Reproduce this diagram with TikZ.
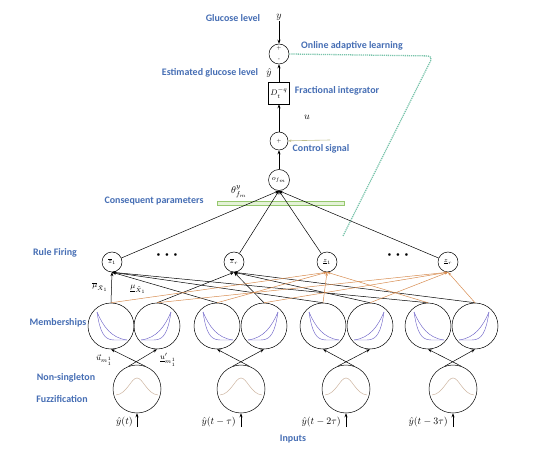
\documentclass[tikz,border=0pt]{standalone}
\usepackage{fontspec}
\newfontfamily\lab{Carlito}
\usetikzlibrary{arrows.meta}
\definecolor{labblue}{RGB}{70,110,180}
\definecolor{mfblue}{RGB}{110,100,200}
\definecolor{gauss}{RGB}{205,180,160}
\definecolor{orangeline}{RGB}{215,140,80}
\definecolor{learngreen}{RGB}{120,195,170}
\definecolor{cpgreen}{RGB}{150,200,110}
\definecolor{cpfill}{RGB}{228,242,215}
\definecolor{csline}{RGB}{190,190,140}
\begin{document}
\begin{tikzpicture}[x=1bp,y=-1bp,
  lbl/.style={font=\lab\bfseries\fontsize{10}{12}\selectfont, text=labblue},
  mathlbl/.style={font=\fontsize{10}{11}\selectfont, inner sep=1pt},
  inlbl/.style={font=\fontsize{10}{11}\selectfont, inner sep=0pt},
  smlbl/.style={font=\fontsize{8}{9}\selectfont, inner sep=1pt},
  rnd/.style={circle, draw, inner sep=0pt, line width=0.5bp},
  arr/.style={-{Stealth[length=4bp,width=3bp]}, line width=0.5bp},
  orl/.style={-{Stealth[length=3.5bp,width=2.5bp]}, orangeline, line width=0.5bp},
  mfc/.style={mfblue, line width=0.45bp},
  learn/.style={learngreen, line width=1.3bp, dash pattern=on 1.2bp off 0.9bp},
  mfL/.pic={
    \draw[mfc] (-14,-14) .. controls (-8,0) and (0,12) .. (16,14);
    \draw[mfc] (-14,-14) .. controls (-11,6) and (-7,14) .. (3,14) -- (16,14);
  },
  gpic/.pic={
    \draw[gauss, line width=0.5bp] (-21,6) .. controls (-10,5) and (-6,-11) .. (0,-11)
       .. controls (6,-11) and (10,5) .. (21,6);
  }
]
\useasboundingbox (0,0) rectangle (540,454);

% ---- top chain ----
\node[lbl] (glu) at (233,18) {Glucose level};
\node[mathlbl] (y) at (279,17) {$y$};
\node[rnd, minimum size=20bp] (sum) at (279,54) {};
\node[font=\fontsize{5}{5}\selectfont, inner sep=0pt] (sp) at (279,48.5) {+};
\node[font=\fontsize{5}{5}\selectfont, inner sep=0pt] (sm) at (279,60) {-};
\node[mathlbl] (yhat) at (269,73) {$\hat{y}$};
\node[lbl] (est) at (210,73) {Estimated glucose level};
\node[draw, line width=0.5bp, minimum width=21bp, minimum height=22bp, inner sep=0pt,
      font=\fontsize{8}{9}\selectfont] (frac) at (279,93) {$D_t^{-q}$};
\node[lbl] (fi) at (337,91) {Fractional integrator};
\node[mathlbl] (u) at (307,117) {$u$};
\node[rnd, minimum size=18bp, font=\fontsize{5}{5}\selectfont] (plus) at (279,141) {+};
\node[lbl] (cs) at (321,149) {Control signal};
\coordinate (csend) at (330,140);
\node[rnd, minimum size=21bp, font=\fontsize{7}{8}\selectfont] (ofm) at (279,180) {$o_{f_m}$};
\node[mathlbl] (theta) at (239,192) {$\theta^{y}_{f_m}$};
\node[draw=cpgreen, fill=cpfill, line width=0.6bp, minimum width=127bp, minimum height=4bp,
      inner sep=0pt] (cp) at (280.5,203) {};
\node[lbl] (cpl) at (154,201) {Consequent parameters};

\draw[arr] (y) -- (sum);
\draw[arr] (frac) -- (sum);
\draw[arr] (plus) -- (frac);
\draw[arr] (ofm) -- (plus);
\draw[-{Stealth[length=3bp,width=2.5bp]}, csline, line width=0.6bp] (csend) -- (plus);

% online learning
\node[lbl] (oal) at (352,46) {Online adaptive learning};
\coordinate (lcorner) at (433,56);
\coordinate (lend) at (343,236);
\draw[learn, rounded corners=5bp] (sum.east) -- (lcorner) -- (lend);

% ---- rule firing ----
\node[lbl] (rf) at (55,253) {Rule Firing};
\node[rnd, minimum size=20bp, font=\fontsize{7}{8}\selectfont] (zb1) at (112,262) {$\overline{z}_1$};
\node[rnd, minimum size=20bp, font=\fontsize{7}{8}\selectfont] (zbr) at (234,262) {$\overline{z}_r$};
\node[rnd, minimum size=20bp, font=\fontsize{7}{8}\selectfont] (zu1) at (327,262) {$\underline{z}_1$};
\node[rnd, minimum size=20bp, font=\fontsize{7}{8}\selectfont] (zur) at (448,262) {$\underline{z}_r$};
\node[font=\fontsize{6}{6}\selectfont] (dots1) at (167,255) {$\bullet\hspace{3bp}\bullet\hspace{3bp}\bullet$};
\node[font=\fontsize{6}{6}\selectfont] (dots2) at (398,255) {$\bullet\hspace{3bp}\bullet\hspace{3bp}\bullet$};

\foreach \z in {zb1,zbr,zu1,zur}
  \draw[arr] (\z) -- (ofm.south);

% ---- memberships ----
\node[lbl] (memb) at (58,323) {Memberships};
\foreach \i/\x in {1/111,2/157,3/217,4/264,5/323,6/370,7/428,8/475}
  \node[rnd, minimum size=46bp] (m\i) at (\x,326) {};
\foreach \i/\x in {1/111,3/217,5/323,7/428}
  \pic at (\x,326) {mfL};
\foreach \i/\x in {2/157,4/264,6/370,8/475}
  \pic[xscale=-1] at (\x,326) {mfL};

\foreach \m in {m1,m3,m5,m7}
  \draw[arr] (\m.north) -- (zb1.south);
\foreach \m in {m2,m4,m6,m8}
  \draw[arr] (\m.north) -- (zbr.south);
\foreach \m in {m1,m3,m5,m7}
  \draw[orl] (\m.north) -- (zu1.south);
\foreach \m in {m2,m4,m6,m8}
  \draw[orl] (\m.north) -- (zur.south);

\node[smlbl] (mub) at (100,287) {$\overline{\mu}_{\tilde{X}_1}$};
\node[smlbl] (muu) at (138,289) {$\underline{\mu}_{\tilde{X}_1}$};

% ---- inputs ----
\node[lbl] (ns) at (66,378) {Non-singleton};
\node[lbl] (fz) at (62,399) {Fuzzification};
\foreach \i/\x in {1/137,2/241,3/346,4/453}{
  \node[rnd, minimum size=48bp] (in\i) at (\x,389) {};
  \pic at (\x,389) {gpic};
  \coordinate (src\i) at (\x,427);
  \draw[arr] (src\i) -- (in\i);
}
\draw[arr] (in1.70) -- (m1.south);
\draw[arr] (in1.110) -- (m2.south);
\draw[arr] (in2.70) -- (m3.south);
\draw[arr] (in2.110) -- (m4.south);
\draw[arr] (in3.70) -- (m5.south);
\draw[arr] (in3.110) -- (m6.south);
\draw[arr] (in4.70) -- (m7.south);
\draw[arr] (in4.110) -- (m8.south);

\node[smlbl] (ul) at (104,360) {$\vec{u}_{m_1^1}$};
\node[smlbl] (ur) at (168,360) {$\underline{u}'_{m_1^1}$};

\node[inlbl, anchor=east] (x1) at (133,422.5) {$\hat{y}(t)$};
\node[inlbl, anchor=east] (x2) at (236,422.5) {$\hat{y}(t-\tau)$};
\node[inlbl, anchor=east] (x3) at (341,422.5) {$\hat{y}(t-2\tau)$};
\node[inlbl, anchor=east] (x4) at (448,422.5) {$\hat{y}(t-3\tau)$};
\node[lbl] (inp) at (293,439) {Inputs};
\end{tikzpicture}
\end{document}
